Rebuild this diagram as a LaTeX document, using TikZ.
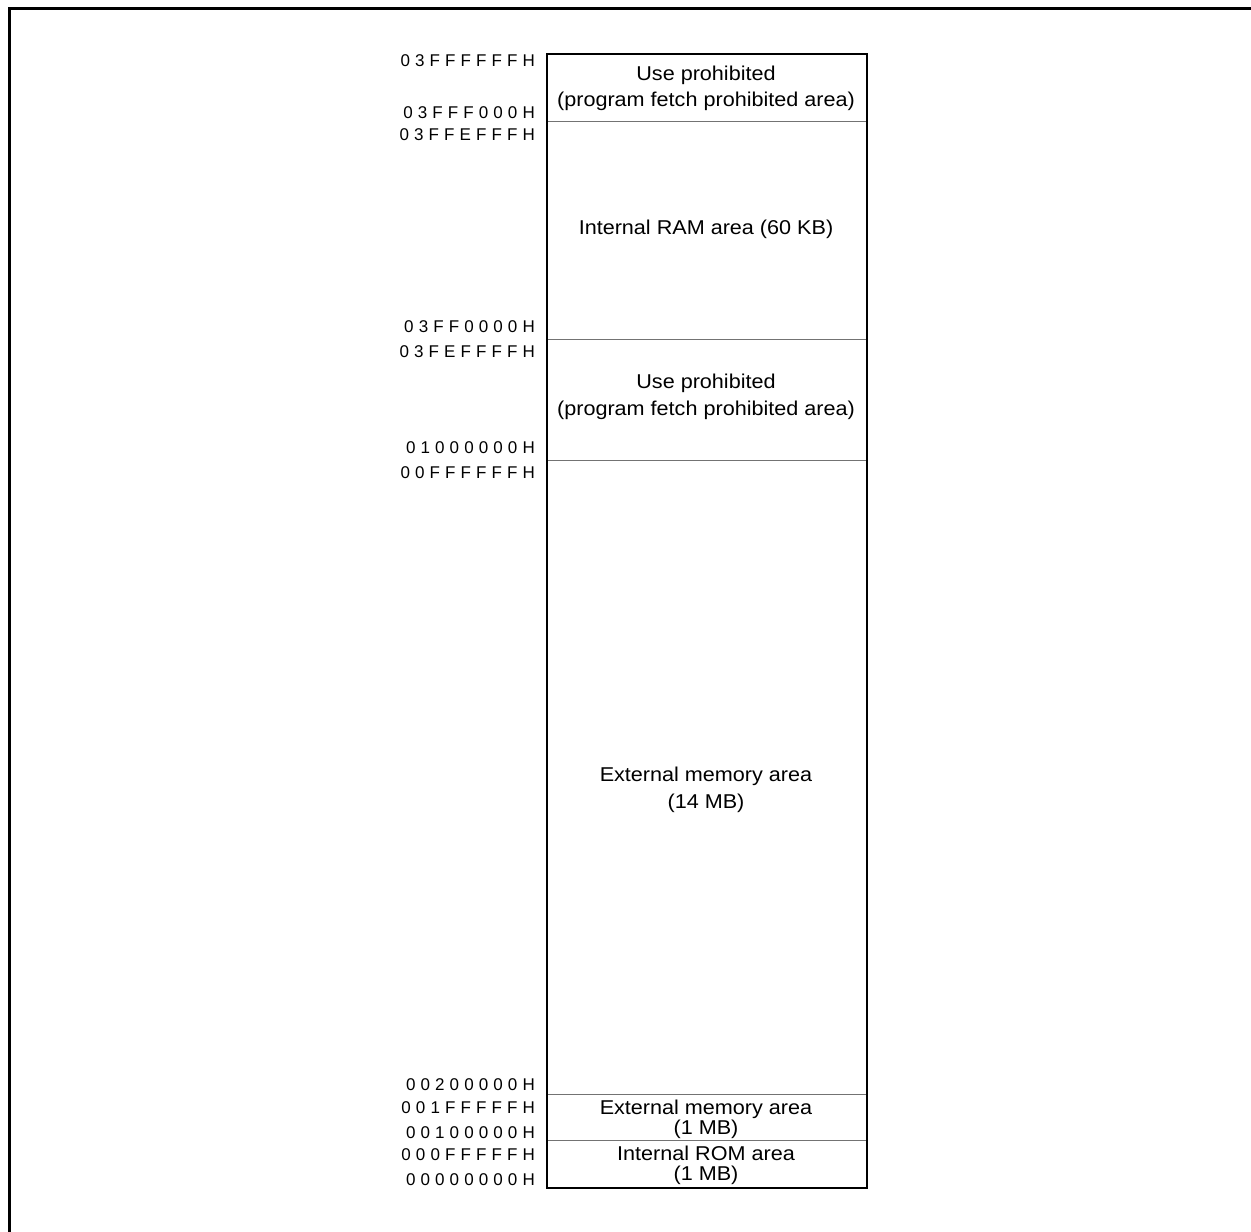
\documentclass[tikz,border=0pt]{standalone}
\usepackage{fontspec}
\setmainfont{Liberation Sans}
\newfontfamily\labfont[LetterSpace=30]{Liberation Sans}
\newfontfamily\areafont[FakeStretch=1.08]{Liberation Sans}
\begin{document}
\begin{tikzpicture}[x=1bp,y=-1bp,
  addr/.style={anchor=east,inner sep=0pt,font=\labfont\fontsize{17bp}{20bp}\selectfont},
  area/.style={align=center,inner sep=0pt,font=\areafont\fontsize{20bp}{26.5bp}\selectfont},
  areasm/.style={align=center,inner sep=0pt,font=\areafont\fontsize{20bp}{20bp}\selectfont},
  divider/.style={draw=black!55,line width=1bp},
  outline/.style={draw=black,line width=2bp},
  frame/.style={draw=black,line width=3bp}]
\useasboundingbox (0,0) rectangle (1251,1232);
\draw[frame] (9.5,1232) -- (9.5,8) -- (1251,8);
% dividers
\coordinate (L1) at (546,121); \coordinate (R1) at (866,121);
\coordinate (L2) at (546,339); \coordinate (R2) at (866,339);
\coordinate (L3) at (546,460); \coordinate (R3) at (866,460);
\coordinate (L4) at (546,1094); \coordinate (R4) at (866,1094);
\coordinate (L5) at (546,1140); \coordinate (R5) at (866,1140);
\draw[divider] (L1) -- (R1);
\draw[divider] (L2) -- (R2);
\draw[divider] (L3) -- (R3);
\draw[divider] (L4) -- (R4);
\draw[divider] (L5) -- (R5);
\node[outline,minimum width=320bp,minimum height=1134bp,inner sep=0pt,anchor=north west] (map) at (546,53) {};
% area texts
\node[area] (a1) at (706,88.5) {Use prohibited\\(program fetch prohibited area)};
\node[area] (a2) at (706,229) {Internal RAM area (60 KB)};
\node[area] (a3) at (706,397) {Use prohibited\\(program fetch prohibited area)};
\node[area] (a4) at (706,790) {External memory area\\(14 MB)};
\node[areasm] (a5) at (706,1119.5) {External memory area\\(1 MB)};
\node[areasm] (a6) at (706,1165.5) {Internal ROM area\\(1 MB)};
% addresses
\node[addr] (d1) at (535,61) {03FFFFFFH};
\node[addr] (d2) at (535,113) {03FFF000H};
\node[addr] (d3) at (535,135) {03FFEFFFH};
\node[addr] (d4) at (535,327) {03FF0000H};
\node[addr] (d5) at (535,352) {03FEFFFFH};
\node[addr] (d6) at (535,448) {01000000H};
\node[addr] (d7) at (535,473) {00FFFFFFH};
\node[addr] (d8) at (535,1085) {00200000H};
\node[addr] (d9) at (535,1108) {001FFFFFH};
\node[addr] (d10) at (535,1133) {00100000H};
\node[addr] (d11) at (535,1155) {000FFFFFH};
\node[addr] (d12) at (535,1180) {00000000H};
\end{tikzpicture}
\end{document}
